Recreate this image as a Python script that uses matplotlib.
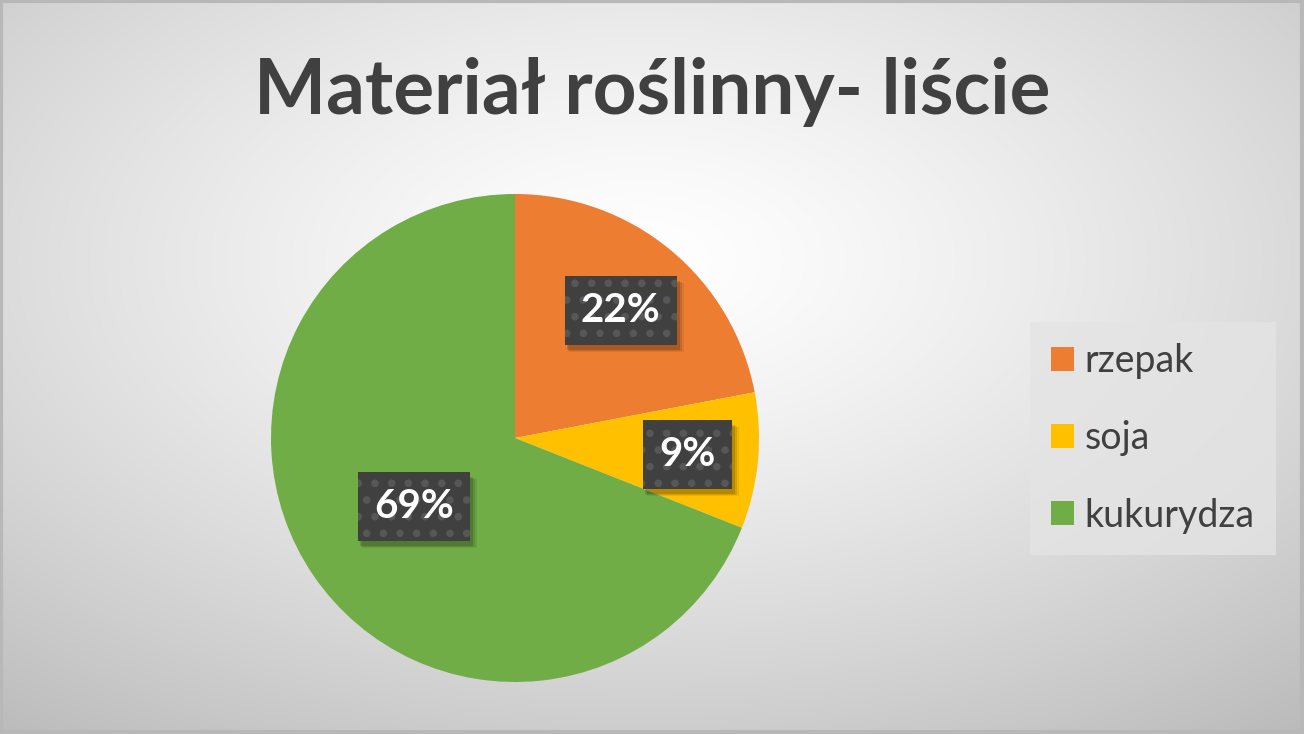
import numpy as np
import matplotlib
matplotlib.use('Agg')
import matplotlib.pyplot as plt
from matplotlib.patches import Rectangle
from matplotlib.transforms import IdentityTransform

# donnees
categories = ['rzepak', 'soja', 'kukurydza']
values = [22, 9, 69]
colors = ['#ED7D31', '#FFC000', '#70AD47']
title = 'Materiał roślinny- liście'

W, H, DPI = 1304, 734, 100
plt.rcParams['font.family'] = ['Lato', 'DejaVu Sans']
plt.rcParams['hatch.linewidth'] = 3.0

fig = plt.figure(figsize=(W / DPI, H / DPI), dpi=DPI)

# fond : degrade radial blanc -> gris
bg = fig.add_axes([0, 0, 1, 1])
yy, xx = np.mgrid[0:H, 0:W]
d = np.sqrt(((xx - 640) / W) ** 2 + ((yy - 260) / H) ** 2)
d = d / d.max()
shade = 1.0 - 0.27 * d ** 1.3
bg.imshow(np.dstack([shade] * 3), extent=[0, W, H, 0], aspect='auto')
bg.set_xlim(0, W)
bg.set_ylim(H, 0)
bg.axis('off')
# bordure
bg.plot([1, W - 2, W - 2, 1, 1], [1, 1, H - 2, H - 2, 1], color='#b8b8b8', lw=3)

fig.text(652 / W, 1 - 92 / H, title, ha='center', va='center',
         fontsize=55, fontweight='bold', color='#404040')

# camembert
cx, cy, r = 515, 438, 244
ax = fig.add_axes([(cx - r) / W, (H - cy - r) / H, 2 * r / W, 2 * r / H])
wedges, _ = ax.pie(values, colors=colors, startangle=90, counterclock=False,
                   radius=1, wedgeprops=dict(linewidth=0))
ax.set_xlim(-1, 1)
ax.set_ylim(-1, 1)
ax.set_aspect('equal')

dist = [0.68, 0.71, 0.5]
labels = []
for w, v, dd in zip(wedges, values, dist):
    a = np.deg2rad((w.theta1 + w.theta2) / 2)
    x, y = dd * np.cos(a), dd * np.sin(a)
    t = ax.text(x, y, f'{v}%', ha='center', va='center', fontsize=29,
                fontweight='bold', color='white', zorder=10,
                bbox=dict(boxstyle='square,pad=0.4', fc='#404040', ec='#575757',
                          lw=0, hatch='.'))
    labels.append(t)

# ombres des etiquettes
fig.canvas.draw()
for t in labels:
    bb = t.get_bbox_patch().get_window_extent()
    for k, al in [(6, 0.07), (4, 0.1), (2, 0.14)]:
        ax.add_patch(Rectangle((bb.x0 + 1 + k / 2, bb.y0 - 4 - k / 2),
                               bb.width + k / 2, bb.height,
                               transform=IdentityTransform(), fc='black',
                               ec='none', alpha=al, zorder=4, clip_on=False))

leg = fig.legend(wedges, categories, loc='upper left',
                 bbox_to_anchor=(1030 / W, 1 - 322 / H), fontsize=27,
                 frameon=True, fancybox=False, edgecolor='none',
                 facecolor='#e4e4e4', framealpha=0.8,
                 handlelength=0.62, handleheight=0.62, handletextpad=0.28,
                 labelspacing=1.1, borderpad=0.56, borderaxespad=0)
for t in leg.get_texts():
    t.set_color('#404040')

fig.savefig('out.png', dpi=DPI)
